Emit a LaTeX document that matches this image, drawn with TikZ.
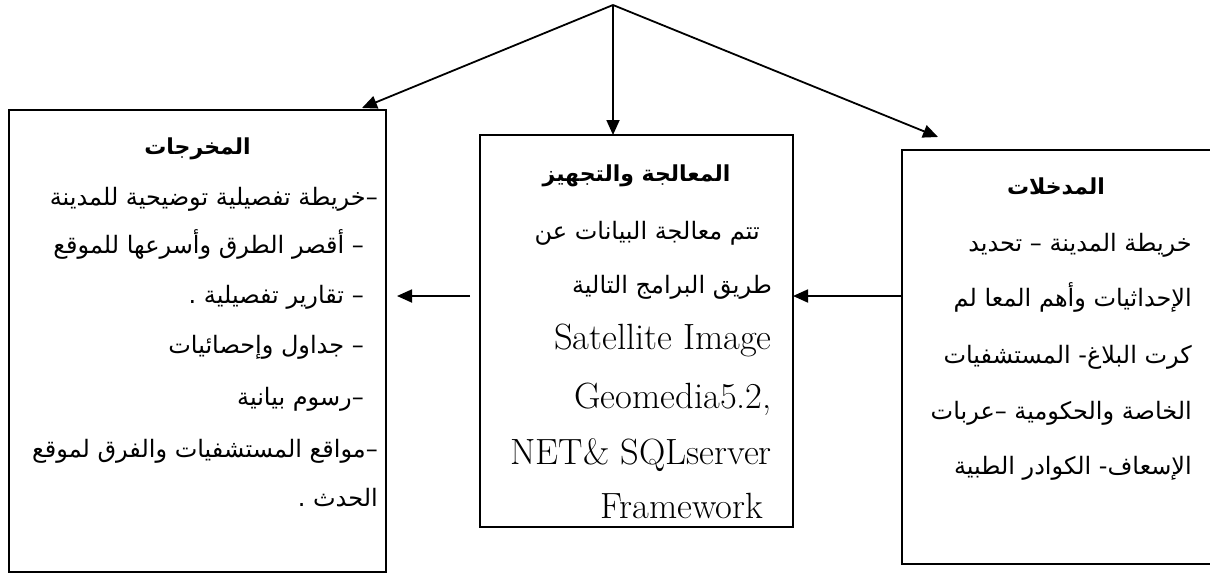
\documentclass[tikz,border=0pt]{standalone}
\usepackage{fontspec}
\usetikzlibrary{arrows.meta}
\TeXXeTstate=1
\newfontfamily\arabicfont[Script=Arabic]{DejaVu Sans}
\newcommand{\ar}[1]{{\arabicfont\beginR #1\endR}}
\tikzset{
  box/.style={draw, line width=1.8pt, inner sep=0pt, outer sep=0pt},
  arr/.style={line width=1.8pt, -{Triangle[length=15pt,width=13pt]}},
  artxt/.style={font=\fontsize{24}{28}\selectfont, inner sep=0pt, anchor=base east},
  arttl/.style={font=\fontsize{22}{26}\selectfont\bfseries, inner sep=0pt, anchor=base},
  lattxt/.style={font=\fontsize{36.5}{40}\selectfont, inner sep=0pt, anchor=base east}
}
\begin{document}
\begin{tikzpicture}[x=1pt,y=-1pt]
\useasboundingbox (0,0) rectangle (1210,581);
% boxes
\node[box, minimum width=377pt, minimum height=462pt] (outbox) at (197.5,341) {};
\node[box, minimum width=313pt, minimum height=392pt] (procbox) at (636.5,331) {};
\node[box, minimum width=312pt, minimum height=414pt] (inbox) at (1058,357) {};
% connector points
\coordinate (top) at (613,5);
\coordinate (tipL) at (362,108);
\coordinate (tipR) at (938,137);
\coordinate (hstart) at (470,296);
\coordinate (htip) at (397,296);
% arrows
\draw[arr] (top) -- (tipL);
\draw[arr] (top) -- (procbox.north -| top);
\draw[arr] (top) -- (tipR);
\draw[arr] (inbox.west |- 0,296) -- (procbox.east |- 0,296);
\draw[arr] (hstart) -- (htip);
% outputs box text
\node[arttl] (ot) at (197.5,154) {\ar{المخرجات}};
\node[artxt] (o1) at (378,205) {\ar{–خريطة تفصيلية توضيحية للمدينة}};
\node[artxt] (o2) at (364,253) {\ar{– أقصر الطرق وأسرعها للموقع}};
\node[artxt] (o3) at (364,303) {\ar{– تقارير تفصيلية .}};
\node[artxt] (o4) at (364,353) {\ar{– جداول وإحصائيات}};
\node[artxt] (o5) at (364,405) {\ar{–رسوم بيانية}};
\node[artxt] (o6) at (378,457) {\ar{–مواقع المستشفيات والفرق لموقع}};
\node[artxt] (o7) at (378,506) {\ar{الحدث .}};
% processing box text
\node[arttl] (pt) at (636.5,181) {\ar{المعالجة والتجهيز}};
\node[artxt] (p1) at (760,239) {\ar{تتم معالجة البيانات عن}};
\node[artxt] (p2) at (772,293) {\ar{طريق البرامج التالية}};
\node[lattxt] (p3) at (772,349) {Satellite Image};
\node[lattxt] (p4) at (772,408) {Geomedia5.2,};
\node[lattxt] (p5) at (772,464) {NET\& SQLserver};
\node[lattxt] (p6) at (763,518) {Framework};
% inputs box text
\node[arttl] (it) at (1056,194) {\ar{المدخلات}};
\node[artxt] (i1) at (1192,251) {\ar{خريطة المدينة – تحديد}};
\node[artxt] (i2) at (1192,306) {\ar{الإحداثيات وأهم المعا لم}};
\node[artxt] (i3) at (1192,363) {\ar{كرت البلاغ- المستشفيات}};
\node[artxt] (i4) at (1192,419) {\ar{الخاصة والحكومية –عربات}};
\node[artxt] (i5) at (1192,474) {\ar{الإسعاف- الكوادر الطبية}};
\end{tikzpicture}
\end{document}
